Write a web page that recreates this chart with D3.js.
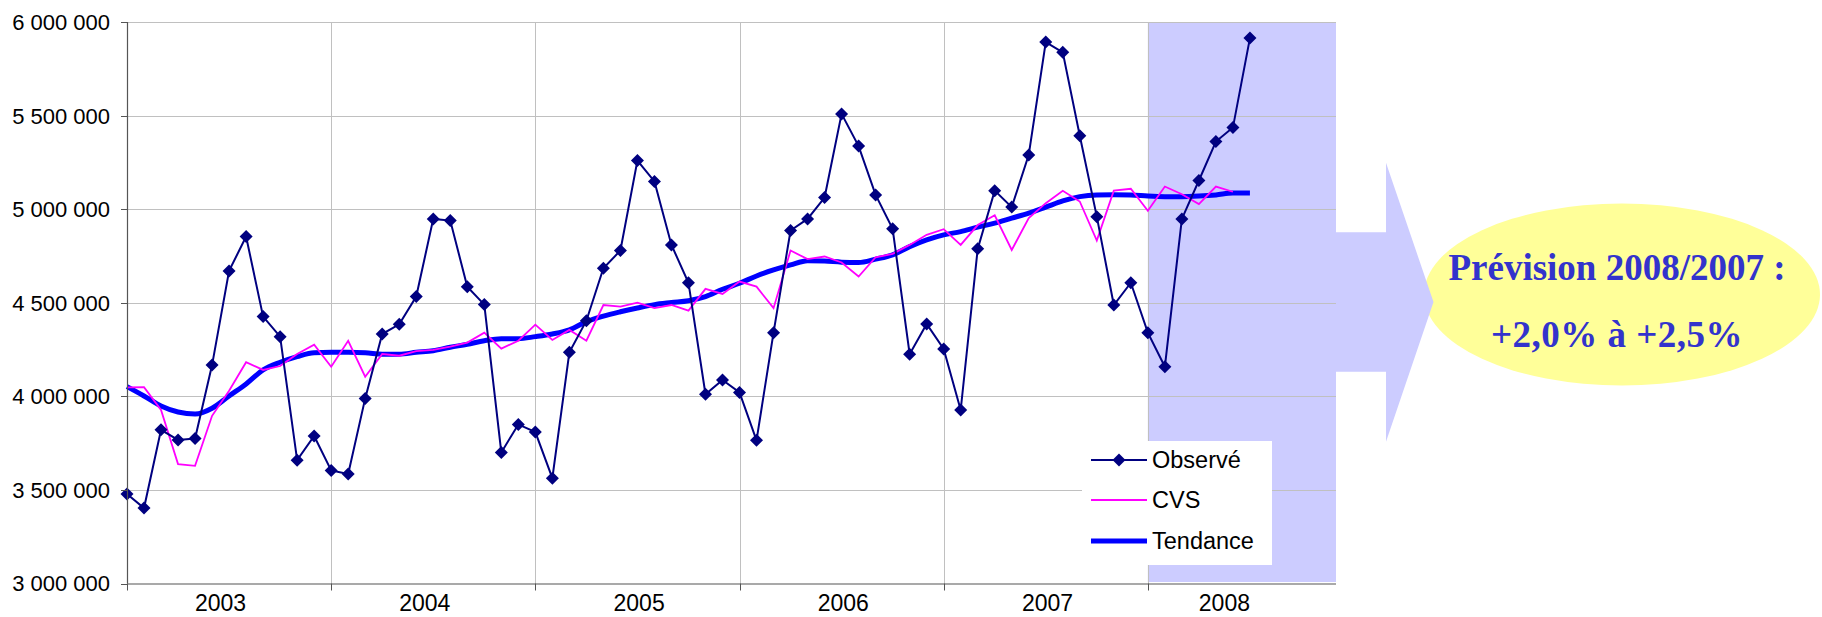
<!DOCTYPE html>
<html><head><meta charset="utf-8">
<script src="https://cdn.jsdelivr.net/npm/d3@7"></script>
<style>html,body{margin:0;padding:0;background:#fff;}svg{display:block;}</style>
</head><body>
<svg id="chart" width="1822" height="617"></svg>
<script>
// ---- data ----
const years = ["2003","2004","2005","2006","2007","2008"];
const nMonths = 72;
const observed = [3478000,3403000,3821000,3767000,3775000,4167000,4670000,4854000,4426000,4319000,3659000,3788000,
 3604000,3585000,3989000,4333000,4385000,4533000,4948000,4939000,4586000,4490000,3700000,3850000,
 3809000,3563000,4235000,4404000,4684000,4779000,5260000,5148000,4809000,4607000,4011000,4087000,
 4021000,3765000,4340000,4886000,4948000,5062000,5509000,5337000,5076000,4895000,4225000,4387000,
 4253000,3927000,4788000,5099000,5011000,5290000,5893000,5838000,5392000,4960000,4488000,4607000,
 4340000,4158000,4948000,5153000,5361000,5436000,5914000];
const cvs = [4048000,4049000,3927000,3638000,3629000,3896000,4030000,4182000,4141000,4162000,4226000,4276000,
 4158000,4297000,4105000,4226000,4217000,4241000,4248000,4265000,4287000,4340000,4255000,4297000,
 4383000,4301000,4355000,4297000,4488000,4479000,4501000,4471000,4488000,4458000,4574000,4547000,
 4613000,4586000,4471000,4779000,4733000,4747000,4715000,4640000,4743000,4761000,4809000,4863000,
 4893000,4809000,4915000,4967000,4782000,4952000,5032000,5098000,5041000,4832000,5099000,5109000,
 4991000,5121000,5080000,5027000,5121000,5093000];
const trend = [4052000,4002000,3948000,3916000,3905000,3936000,4002000,4066000,4141000,4182000,4212000,4233000,
 4235000,4235000,4233000,4225000,4225000,4235000,4244000,4262000,4278000,4297000,4308000,4308000,
 4319000,4333000,4355000,4399000,4429000,4452000,4472000,4490000,4501000,4511000,4533000,4572000,
 4604000,4643000,4675000,4702000,4725000,4723000,4717000,4715000,4733000,4756000,4800000,4836000,
 4863000,4880000,4904000,4925000,4952000,4979000,5011000,5044000,5067000,5076000,5077000,5076000,
 5070000,5067000,5067000,5070000,5076000,5086000,5086000];
const yTicks = [3000000,3500000,4000000,4500000,5000000,5500000,6000000];
const forecastYear = "2008";
const seriesNames = ["Observé","CVS","Tendance"];
const noteLines = ["Prévision 2008/2007 :","+2,0% à +2,5%"];

// ---- setup ----
const svg = d3.select("#chart");
const x = d3.scaleLinear().domain([0, nMonths - 1]).range([127, 1335]);
const y = d3.scaleLinear().domain([3000000, 6000000]).range([583.5, 22]);
const loc = d3.formatLocale({decimal:",", thousands:"\u00a0", grouping:[3], currency:["",""]});
const fmt = v => loc.format(",")(v).replace(/\u00a0/g," ");
const sansFont = "'Liberation Sans', Arial, sans-serif";

const forecastStart = years.indexOf(forecastYear) * 12;
const plotRight = x.range()[1] + 1;

// forecast shading
svg.append("rect")
  .attr("x", x(forecastStart)).attr("y", y(6000000))
  .attr("width", plotRight - x(forecastStart)).attr("height", y(3000000) - y(6000000) - 1.5)
  .attr("fill", "#CCCCFF");

// gridlines
svg.append("g").selectAll("line").data(yTicks.slice(1)).join("line")
  .attr("x1", x(0)).attr("x2", plotRight)
  .attr("y1", d => Math.round(y(d)) + 0.5).attr("y2", d => Math.round(y(d)) + 0.5)
  .attr("stroke", "#c0c0c0").attr("stroke-width", 1);
svg.append("g").selectAll("line").data(d3.range(1, years.length)).join("line")
  .attr("x1", d => Math.round(x(d * 12)) + 0.5).attr("x2", d => Math.round(x(d * 12)) + 0.5)
  .attr("y1", y(6000000)).attr("y2", y(3000000))
  .attr("stroke", "#c0c0c0").attr("stroke-width", 1);

// annotation: ellipse + arrow
const ell = {cx: 1622, cy: 294.5, rx: 198, ry: 91};
svg.append("ellipse").attr("cx", ell.cx).attr("cy", ell.cy).attr("rx", ell.rx).attr("ry", ell.ry)
  .attr("fill", "#FFFF99");
const shaftTop = 232.3, shaftBot = 371.7, headX = 1386, headTop = 162.7, headBot = 441.7, tipX = 1433.5, tipY = 302;
svg.append("path")
  .attr("d", `M${plotRight},${shaftTop} L${headX},${shaftTop} L${headX},${headTop} L${tipX},${tipY} L${headX},${headBot} L${headX},${shaftBot} L${plotRight},${shaftBot} Z`)
  .attr("fill", "#CCCCFF");
svg.append("g").selectAll("text").data(noteLines).join("text")
  .attr("x", 1617).attr("y", (d, i) => i === 0 ? 279.5 : 346.5)
  .attr("text-anchor", "middle")
  .attr("font-family", "'Liberation Serif', 'Times New Roman', serif")
  .attr("font-weight", "bold").attr("font-size", 37)
  .attr("fill", "#3333CC")
  .attr("letter-spacing", (d, i) => i === 0 ? 0 : 0.5)
  .text(d => d);

// series
const lineGen = d3.line().x((d, i) => x(i)).y(d => y(d));
svg.append("path").datum(trend)
  .attr("d", lineGen.curve(d3.curveMonotoneX))
  .attr("fill", "none").attr("stroke", "#0000FF").attr("stroke-width", 5).attr("stroke-linejoin", "round");
svg.append("path").datum(cvs)
  .attr("d", d3.line().x((d, i) => x(i)).y(d => y(d)))
  .attr("fill", "none").attr("stroke", "#FF00FF").attr("stroke-width", 1.8);
svg.append("path").datum(observed)
  .attr("d", d3.line().x((d, i) => x(i)).y(d => y(d)))
  .attr("fill", "none").attr("stroke", "#000080").attr("stroke-width", 2);
const diamond = "M0,-6.5L6.5,0L0,6.5L-6.5,0Z";
svg.append("g").selectAll("path").data(observed).join("path")
  .attr("d", diamond)
  .attr("transform", (d, i) => `translate(${x(i)},${y(d)})`)
  .attr("fill", "#000080");

// axes
const yAxisX = x(0);
svg.append("line").attr("x1", yAxisX + 0.5).attr("x2", yAxisX + 0.5).attr("y1", y(6000000)).attr("y2", y(3000000))
  .attr("stroke", "#555").attr("stroke-width", 1.2);
svg.append("g").selectAll("line").data(yTicks).join("line")
  .attr("x1", yAxisX - 6).attr("x2", yAxisX)
  .attr("y1", d => Math.round(y(d)) + 0.5).attr("y2", d => Math.round(y(d)) + 0.5)
  .attr("stroke", "#555");
svg.append("g").selectAll("text").data(yTicks).join("text")
  .attr("x", 110).attr("y", d => y(d)).attr("dy", "0.36em")
  .attr("text-anchor", "end").attr("font-family", sansFont).attr("font-size", 22).attr("fill", "#000")
  .text(d => fmt(d));

svg.append("line").attr("x1", x(0)).attr("x2", plotRight).attr("y1", y(3000000) + 0.5).attr("y2", y(3000000) + 0.5)
  .attr("stroke", "#555").attr("stroke-width", 1.2);
svg.append("g").selectAll("line").data(d3.range(0, years.length)).join("line")
  .attr("x1", d => Math.round(x(d * 12)) + 0.5).attr("x2", d => Math.round(x(d * 12)) + 0.5)
  .attr("y1", y(3000000)).attr("y2", y(3000000) + 7)
  .attr("stroke", "#555");
svg.append("g").selectAll("text").data(years).join("text")
  .attr("x", (d, i) => {
    const s = i * 12, e = Math.min(s + 11, nMonths - 1);
    if (i === years.length - 1) return x(s + 4.5);
    return x((s + e) / 2 + (i >= 2 ? 0.6 : 0));
  })
  .attr("y", 603).attr("dy", "0.36em")
  .attr("text-anchor", "middle").attr("font-family", sansFont).attr("font-size", 23).attr("fill", "#000")
  .text(d => d);

// legend
const lg = svg.append("g");
lg.append("rect").attr("x", 1082).attr("y", 441).attr("width", 190).attr("height", 124).attr("fill", "#fff");
const rowsY = [460, 500, 541];
const styles = [{c:"#000080", w:2, m:true}, {c:"#FF00FF", w:1.8, m:false}, {c:"#0000FF", w:5, m:false}];
seriesNames.forEach((name, i) => {
  lg.append("line").attr("x1", 1091).attr("x2", 1147).attr("y1", rowsY[i]).attr("y2", rowsY[i])
    .attr("stroke", styles[i].c).attr("stroke-width", styles[i].w);
  if (styles[i].m) lg.append("path").attr("d", diamond).attr("transform", `translate(1119,${rowsY[i]})`).attr("fill", styles[i].c);
  lg.append("text").attr("x", 1152).attr("y", rowsY[i]).attr("dy", "0.36em")
    .attr("font-family", sansFont).attr("font-size", 23.5).attr("fill", "#000").text(name);
});
</script>
</body></html>
